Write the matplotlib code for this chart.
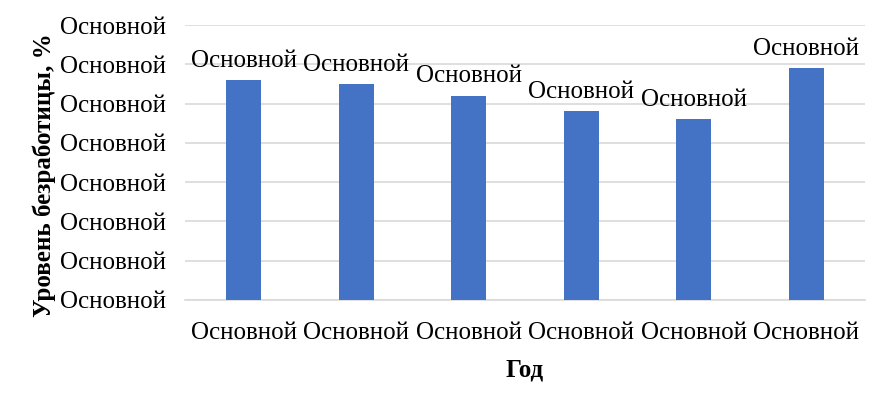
import numpy as np
import matplotlib.pyplot as plt

plt.rcParams['font.family'] = ['Liberation Serif', 'DejaVu Serif']

# данные
categories = ['Основной'] * 6
values = [5.6, 5.5, 5.2, 4.8, 4.6, 5.9]
bar_labels = ['Основной'] * 6
y_ticks = [0, 1, 2, 3, 4, 5, 6, 7]
y_tick_labels = ['Основной'] * 8

fs = 18

fig = plt.figure(figsize=(8.87, 4.05), dpi=100)
ax = fig.add_axes([185 / 887, 105 / 405, 680 / 887, 275 / 405])

x = np.arange(len(categories))
bars = ax.bar(x, values, width=0.31, color='#4472C4', zorder=3)

for b, lab in zip(bars, bar_labels):
    ax.annotate(lab, (b.get_x() + b.get_width() / 2, b.get_height()),
                xytext=(0, 6), textcoords='offset points',
                ha='center', va='bottom', fontsize=fs)

ax.set_xlim(-0.52, len(categories) - 0.48)
ax.set_ylim(0, 7)
ax.set_yticks(y_ticks)
ax.set_yticklabels(y_tick_labels, fontsize=fs)
ax.set_xticks(x)
ax.set_xticklabels(categories, fontsize=fs)
ax.tick_params(axis='both', length=0)
ax.tick_params(axis='y', pad=14)
ax.tick_params(axis='x', pad=16)

ax.grid(axis='y', color='#d9d9d9', linewidth=1.2, zorder=0)
for s in ['top', 'right', 'left']:
    ax.spines[s].set_visible(False)
ax.spines['bottom'].set_color('#d9d9d9')
ax.spines['bottom'].set_linewidth(1.2)

ax.set_xlabel('Год', fontsize=fs, fontweight='bold', labelpad=10)
ax.set_ylabel('Уровень безработицы, %', fontsize=fs, fontweight='bold')
ax.yaxis.set_label_coords(-0.19, 0.455)

fig.savefig('out.png', dpi=100)
